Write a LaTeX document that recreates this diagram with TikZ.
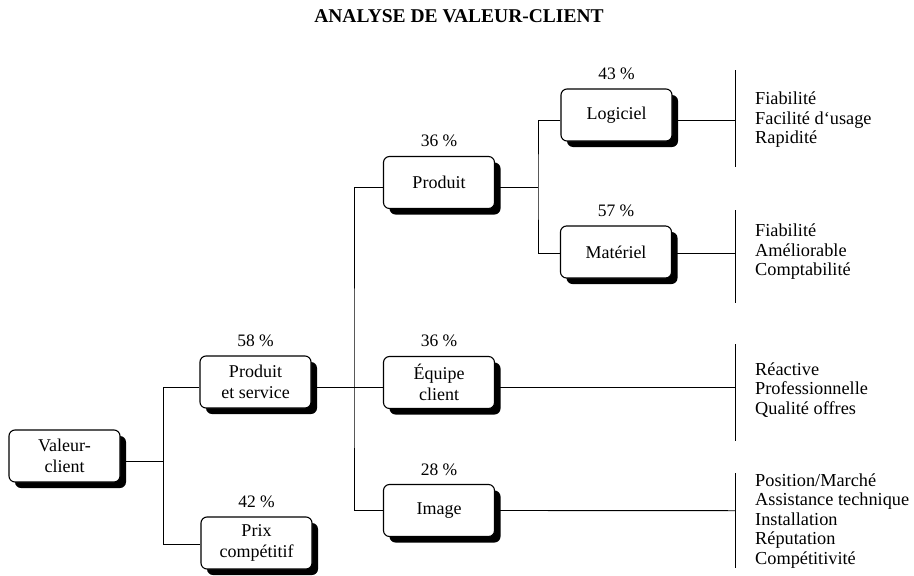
\documentclass[tikz,border=0pt]{standalone}
\usepackage{fontspec}
\setmainfont{Liberation Serif}
\usetikzlibrary{shadows}
\begin{document}
\begin{tikzpicture}[x=1pt,y=-1pt,
  box/.style={draw, line width=1.1pt, rounded corners=6pt, fill=white,
    minimum width=111pt, minimum height=52pt, inner sep=2pt, align=center,
    font=\fontsize{18}{21}\selectfont,
    drop shadow={shadow xshift=6pt, shadow yshift=-6pt, fill=black, opacity=1}},
  pct/.style={font=\fontsize{17.5}{20}\selectfont, inner sep=0pt},
  lst/.style={anchor=west, align=left, inner sep=0pt, font=\fontsize{18.3}{19.5}\selectfont},
  conn/.style={line width=0.9pt},
  bar/.style={line width=1pt}]
\useasboundingbox (0,0) rectangle (914,576);

\node[font=\fontsize{19.5}{22}\selectfont\bfseries] (title) at (459,16) {ANALYSE DE VALEUR-CLIENT};

% boxes
\node[box] (val)  at (64.5,456)  {Valeur-\\client};
\node[box] (ps)   at (255.5,382) {Produit\\et service};
\node[box] (prix) at (256.5,543) {Prix\\compétitif};
\node[box] (prod) at (439,182.5) {Produit};
\node[box] (equ)  at (439,382.5) {Équipe\\client};
\node[box] (img)  at (439,510.5) {Image};
\node[box] (log)  at (616.5,115) {Logiciel};
\node[box] (mat)  at (616,252)   {Matériel};

% percentages
\node[pct] (ps-p)   at ([yshift=15pt]ps.north)   {58 \%};
\node[pct] (prix-p) at ([yshift=15pt]prix.north) {42 \%};
\node[pct] (prod-p) at ([yshift=15pt]prod.north) {36 \%};
\node[pct] (equ-p)  at ([yshift=15pt]equ.north)  {36 \%};
\node[pct] (img-p)  at ([yshift=14pt]img.north)  {28 \%};
\node[pct] (log-p)  at ([yshift=15pt]log.north)  {43 \%};
\node[pct] (mat-p)  at ([yshift=15pt]mat.north)  {57 \%};

% junctions
\coordinate (j1) at (163,387);
\coordinate (j2) at (354,387);
\coordinate (j3) at (538,187);

\draw[conn] ([yshift=-5pt]val.east) -| (j1) -- ([yshift=-5pt]ps.west);
\draw[conn] (j1) |- ([yshift=-1pt]prix.west);

\draw[conn] ([yshift=-5pt]ps.east) -- ([yshift=-4.5pt]equ.west);
\draw[conn] ([yshift=-4.5pt]prod.west) -| (j2) |- (img.west);

\draw[conn] ([yshift=-4.5pt]prod.east) -- (j3);
\draw[conn] ([yshift=-5pt]log.west) -| (j3) |- ([yshift=-1pt]mat.west);

% bars
\coordinate (b1t) at (735,70);  \coordinate (b1m) at (735,120); \coordinate (b1b) at (735,167);
\coordinate (b2t) at (735,210); \coordinate (b2m) at (735,253); \coordinate (b2b) at (735,303);
\coordinate (b3t) at (735,344); \coordinate (b3m) at (735,387); \coordinate (b3b) at (735,441);
\coordinate (b4t) at (735,473); \coordinate (b4m) at (735,510.7); \coordinate (b4b) at (735,568);
\draw[bar] (b1t) -- (b1b);
\draw[bar] (b2t) -- (b2b);
\draw[bar] (b3t) -- (b3b);
\draw[bar] (b4t) -- (b4b);
\draw[conn] ([yshift=-5pt]log.east) -- (b1m);
\draw[conn] ([yshift=-1pt]mat.east) -- (b2m);
\draw[conn] ([yshift=-4.5pt]equ.east) -- (b3m);
\draw[conn] (img.east) -- (b4m);

% lists
\node[lst] (l1) at (755,120) {Fiabilité\\Facilité d‘usage\\Rapidité};
\node[lst] (l2) at (755,252) {Fiabilité\\Améliorable\\Comptabilité};
\node[lst] (l3) at (755,390) {Réactive\\Professionnelle\\Qualité offres};
\node[lst] (l4) at (755,521) {Position/Marché\\Assistance technique\\Installation\\Réputation\\Compétitivité};
\end{tikzpicture}
\end{document}
